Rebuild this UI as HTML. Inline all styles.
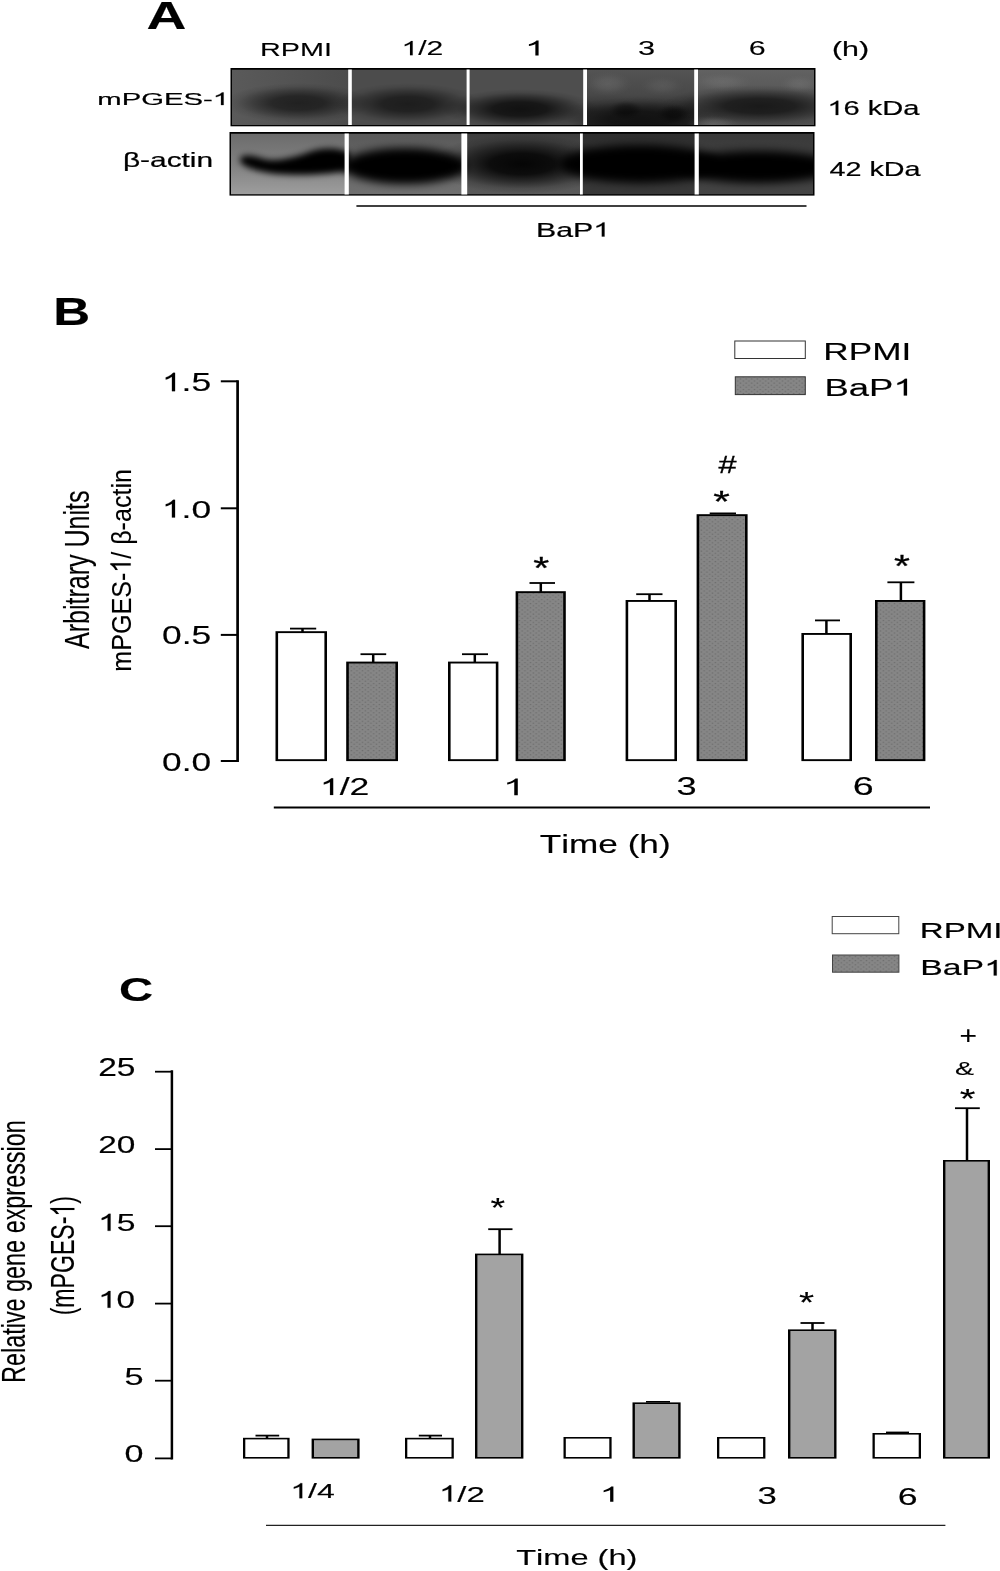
<!DOCTYPE html>
<html><head><meta charset="utf-8"><title>Figure</title>
<style>
html,body{margin:0;padding:0;background:#fff;}
body{width:1000px;height:1571px;overflow:hidden;}
svg{display:block;will-change:transform;filter:blur(0.45px);}
svg text{font-family:"Liberation Sans",sans-serif;fill:#000;}
</style></head><body>
<svg width="1000" height="1571" viewBox="0 0 1000 1571">
<rect width="1000" height="1571" fill="#fff"/>
<defs>
<pattern id="dots" width="5.6" height="4.2" patternUnits="userSpaceOnUse"><rect width="5.6" height="4.2" fill="#868686"/><rect x="0.6" y="0.4" width="1.5" height="1.1" fill="#6c6c6c"/><rect x="3.4" y="2.5" width="1.5" height="1.1" fill="#6c6c6c"/></pattern>
<filter id="bl3" x="-30%" y="-80%" width="160%" height="260%"><feGaussianBlur stdDeviation="3.2"/></filter>
<filter id="bl4" x="-30%" y="-80%" width="160%" height="260%"><feGaussianBlur stdDeviation="4.5"/></filter>
<filter id="bl6" x="-40%" y="-100%" width="180%" height="300%"><feGaussianBlur stdDeviation="6"/></filter>
<filter id="bl8" x="-40%" y="-120%" width="180%" height="340%"><feGaussianBlur stdDeviation="7.5"/></filter>
<radialGradient id="rgk"><stop offset="0" stop-color="#000" stop-opacity="1"/><stop offset="0.35" stop-color="#000" stop-opacity="0.9"/><stop offset="0.6" stop-color="#000" stop-opacity="0.52"/><stop offset="0.82" stop-color="#000" stop-opacity="0.15"/><stop offset="1" stop-color="#000" stop-opacity="0"/></radialGradient>
<radialGradient id="rgw"><stop offset="0" stop-color="#999" stop-opacity="1"/><stop offset="0.4" stop-color="#999" stop-opacity="0.7"/><stop offset="0.75" stop-color="#999" stop-opacity="0.2"/><stop offset="1" stop-color="#999" stop-opacity="0"/></radialGradient>
<linearGradient id="g1a" x1="0" y1="0" x2="1" y2="0"><stop offset="0" stop-color="#5a5a5a"/><stop offset="1" stop-color="#4c4c4c"/></linearGradient>
<linearGradient id="g1d" x1="0" y1="0" x2="0" y2="1"><stop offset="0" stop-color="#545454"/><stop offset="0.45" stop-color="#484848"/><stop offset="0.75" stop-color="#2e2e2e"/><stop offset="1" stop-color="#2a2a2a"/></linearGradient>
<linearGradient id="g1e" x1="0" y1="0" x2="0" y2="1"><stop offset="0" stop-color="#626262"/><stop offset="0.4" stop-color="#585858"/><stop offset="1" stop-color="#505050"/></linearGradient>
<clipPath id="c1"><rect x="232" y="69.5" width="582" height="55.5"/></clipPath>
<clipPath id="c2"><rect x="231" y="133.5" width="582" height="61"/></clipPath>
<linearGradient id="g2a" x1="0" y1="0" x2="0" y2="1"><stop offset="0" stop-color="#6c6c6c"/><stop offset="0.5" stop-color="#808080"/><stop offset="1" stop-color="#9e9e9e"/></linearGradient>
<linearGradient id="g2b" x1="0" y1="0" x2="0" y2="1"><stop offset="0" stop-color="#5a5a5a"/><stop offset="1" stop-color="#707070"/></linearGradient>
<linearGradient id="g2c" x1="0" y1="0" x2="0" y2="1"><stop offset="0" stop-color="#3e3e3e"/><stop offset="1" stop-color="#5a5a5a"/></linearGradient>
<linearGradient id="g2d" x1="0" y1="0" x2="0" y2="1"><stop offset="0" stop-color="#2e2e2e"/><stop offset="1" stop-color="#383838"/></linearGradient>
<linearGradient id="g2e" x1="0" y1="0" x2="0" y2="1"><stop offset="0" stop-color="#3a3a3a"/><stop offset="1" stop-color="#444"/></linearGradient>
</defs>
<g transform="translate(146.62,28.50) scale(1.4062,1)" stroke="#000" stroke-width="0.15"><text x="0.00" font-size="39.27" font-weight="bold">A</text></g>
<g transform="translate(260.02,55.50) scale(1.5478,1)" stroke="#000" stroke-width="0.1"><text x="0.00" font-size="18.62">RPMI</text></g>
<g transform="translate(401.42,55.20) scale(1.5189,1)" stroke="#000" stroke-width="0.1"><path transform="translate(0.00,0) scale(0.00970,-0.00970)" d="M763 0L583 0L583 1147Q518 1085 412.5 1023Q307 961 223 930L223 1104Q374 1175 487 1276Q600 1377 647 1472L763 1472Z" stroke-width="10.3"/><text x="11.05" font-size="19.86">/2</text></g>
<g transform="translate(524.89,55.50) scale(1.7746,1)"><path transform="translate(0.00,0) scale(0.01012,-0.01012)" d="M763 0L583 0L583 1147Q518 1085 412.5 1023Q307 961 223 930L223 1104Q374 1175 487 1276Q600 1377 647 1472L763 1472Z" stroke-width="0.0"/></g>
<g transform="translate(638.05,55.00) scale(1.5314,1)" stroke="#000" stroke-width="0.1"><text x="0.00" font-size="20.07">3</text></g>
<g transform="translate(748.68,55.00) scale(1.5189,1)" stroke="#000" stroke-width="0.1"><text x="0.00" font-size="20.07">6</text></g>
<g transform="translate(831.90,55.57) scale(1.4902,1)" stroke="#000" stroke-width="0.2"><text x="0.00" font-size="20.38">(h)</text></g>
<g transform="translate(827.43,115.00) scale(1.4643,1)" stroke="#000" stroke-width="0.2"><path transform="translate(0.00,0) scale(0.00970,-0.00970)" d="M763 0L583 0L583 1147Q518 1085 412.5 1023Q307 961 223 930L223 1104Q374 1175 487 1276Q600 1377 647 1472L763 1472Z" stroke-width="20.6"/><text x="11.05" font-size="19.86">6 kDa</text></g>
<g transform="translate(829.55,176.40) scale(1.4264,1)" stroke="#000" stroke-width="0.2"><text x="0.00" font-size="20.14">42 kDa</text></g>
<g transform="translate(97.33,105.00) scale(1.6817,1)" stroke="#000" stroke-width="0.2"><text x="0.00" font-size="17.39">mPGES-</text><path transform="translate(68.61,0) scale(0.00849,-0.00849)" d="M763 0L583 0L583 1147Q518 1085 412.5 1023Q307 961 223 930L223 1104Q374 1175 487 1276Q600 1377 647 1472L763 1472Z" stroke-width="23.6"/></g>
<g transform="translate(122.91,167.00) scale(1.5242,1)" stroke="#000" stroke-width="0.2"><text x="0.00" font-size="19.59">β-actin</text></g>
<g transform="translate(536.00,236.50) scale(1.5431,1)" stroke="#000" stroke-width="0.2"><text x="0.00" font-size="19.62">BaP</text><path transform="translate(37.08,0) scale(0.00958,-0.00958)" d="M763 0L583 0L583 1147Q518 1085 412.5 1023Q307 961 223 930L223 1104Q374 1175 487 1276Q600 1377 647 1472L763 1472Z" stroke-width="20.9"/></g>
<line x1="356.4" y1="206" x2="806.5" y2="206" stroke="#000" stroke-width="1.6"/>
<rect x="230.5" y="68" width="585" height="58.3" fill="#000"/>
<g clip-path="url(#c1)">
<rect x="232" y="69.5" width="118" height="56" fill="url(#g1a)"/>
<rect x="350" y="69.5" width="118" height="56" fill="#4c4c4c"/>
<rect x="468" y="69.5" width="117" height="56" fill="#4e4e4e"/>
<rect x="585" y="69.5" width="111" height="56" fill="url(#g1d)"/>
<rect x="696" y="69.5" width="118" height="56" fill="url(#g1e)"/>
<ellipse cx="298" cy="103" rx="74" ry="20" fill="url(#rgk)" opacity="0.6"/>
<ellipse cx="408" cy="104" rx="74" ry="21" fill="url(#rgk)" opacity="0.62"/>
<ellipse cx="520" cy="109" rx="78" ry="20" fill="url(#rgk)" opacity="0.78"/>
<ellipse cx="640" cy="119" rx="90" ry="22" fill="url(#rgk)" opacity="0.6"/>
<ellipse cx="626" cy="110" rx="18" ry="10" fill="url(#rgk)" opacity="0.4"/>
<ellipse cx="674" cy="114" rx="18" ry="10" fill="url(#rgk)" opacity="0.45"/>
<ellipse cx="608" cy="84" rx="24" ry="12" fill="url(#rgw)" opacity="0.22"/>
<ellipse cx="662" cy="86" rx="22" ry="10" fill="url(#rgw)" opacity="0.15"/>
<ellipse cx="760" cy="106" rx="100" ry="21" fill="url(#rgk)" opacity="0.7"/>
<ellipse cx="712" cy="124" rx="26" ry="8" fill="url(#rgw)" opacity="0.3"/>
<ellipse cx="722" cy="82" rx="30" ry="9" fill="url(#rgw)" opacity="0.2"/>
<ellipse cx="800" cy="84" rx="20" ry="9" fill="url(#rgw)" opacity="0.2"/>
</g>
<rect x="348.2" y="69.5" width="3.60" height="55.5" fill="#fff"/>
<rect x="466.6" y="69.5" width="3.00" height="55.5" fill="#fff"/>
<rect x="583.2" y="69.5" width="3.80" height="55.5" fill="#fff"/>
<rect x="694.2" y="69.5" width="3.80" height="55.5" fill="#fff"/>
<rect x="229.5" y="132" width="585" height="63.6" fill="#000"/>
<g clip-path="url(#c2)">
<rect x="231" y="133.5" width="116" height="61" fill="url(#g2a)"/>
<rect x="347" y="133.5" width="117" height="61" fill="url(#g2b)"/>
<rect x="464" y="133.5" width="117" height="61" fill="url(#g2c)"/>
<rect x="581" y="133.5" width="116" height="61" fill="url(#g2d)"/>
<rect x="697" y="133.5" width="116" height="61" fill="url(#g2e)"/>
<path d="M240,159 C242,154 252,155 264,159 C278,162 296,157 312,151 C326,147 340,148 350,153 L350,170 C336,174 300,176 278,174 C260,172 239,167 240,159Z" fill="#060606" filter="url(#bl3)"/>
<ellipse cx="405" cy="166" rx="62" ry="18" fill="#020202" filter="url(#bl4)"/>
<ellipse cx="522" cy="164" rx="92" ry="30" fill="url(#rgk)" opacity="0.93"/>
<ellipse cx="640" cy="164" rx="80" ry="19" fill="#000" filter="url(#bl4)"/>
<ellipse cx="758" cy="167" rx="80" ry="16" fill="#000" filter="url(#bl4)"/>
</g>
<rect x="344.6" y="133.5" width="4.20" height="61" fill="#fff"/>
<rect x="461.4" y="133.5" width="5.80" height="61" fill="#fff"/>
<rect x="580" y="133.5" width="2.80" height="61" fill="#fff"/>
<rect x="694.6" y="133.5" width="4.20" height="61" fill="#fff"/>
<g transform="translate(53.35,325.00) scale(1.3421,1)" stroke="#000" stroke-width="0.15"><text x="0.00" font-size="38.11" font-weight="bold">B</text></g>
<g transform="translate(161.84,391.14) scale(1.3905,1)" stroke="#000" stroke-width="0.15"><path transform="translate(0.00,0) scale(0.01246,-0.01246)" d="M763 0L583 0L583 1147Q518 1085 412.5 1023Q307 961 223 930L223 1104Q374 1175 487 1276Q600 1377 647 1472L763 1472Z" stroke-width="12.0"/><text x="14.20" font-size="25.52">.5</text></g>
<g transform="translate(161.84,517.55) scale(1.4340,1)" stroke="#000" stroke-width="0.15"><path transform="translate(0.00,0) scale(0.01206,-0.01206)" d="M763 0L583 0L583 1147Q518 1085 412.5 1023Q307 961 223 930L223 1104Q374 1175 487 1276Q600 1377 647 1472L763 1472Z" stroke-width="12.4"/><text x="13.74" font-size="24.70">.0</text></g>
<g transform="translate(162.08,643.84) scale(1.3619,1)" stroke="#000" stroke-width="0.15"><text x="0.00" font-size="26.01">0.5</text></g>
<g transform="translate(162.09,771.44) scale(1.3819,1)" stroke="#000" stroke-width="0.15"><text x="0.00" font-size="25.58">0.0</text></g>
<line x1="237.6" y1="380.2" x2="237.6" y2="762" stroke="#000" stroke-width="2.7"/>
<line x1="220.8" y1="381.3" x2="237.6" y2="381.3" stroke="#000" stroke-width="2"/>
<line x1="220.8" y1="508.3" x2="237.6" y2="508.3" stroke="#000" stroke-width="2"/>
<line x1="220.8" y1="634.9" x2="237.6" y2="634.9" stroke="#000" stroke-width="2"/>
<line x1="220.8" y1="761" x2="237.6" y2="761" stroke="#000" stroke-width="2"/>
<g transform="translate(88.80,648.96) rotate(-90) scale(0.7023,1)" stroke="#000" stroke-width="0.12"><text x="0.00" font-size="35.64">Arbitrary Units</text></g>
<g transform="translate(130.70,671.69) rotate(-90) scale(0.8847,1)" stroke="#000" stroke-width="0.12"><text x="0.00" font-size="28.36">mPGES-</text><path transform="translate(111.89,0) scale(0.01385,-0.01385)" d="M763 0L583 0L583 1147Q518 1085 412.5 1023Q307 961 223 930L223 1104Q374 1175 487 1276Q600 1377 647 1472L763 1472Z" stroke-width="8.7"/><text x="127.67" font-size="28.36">/ β-actin</text></g>
<rect x="275.50" y="631.20" width="51.50" height="129.90" fill="#000"/><rect x="278.10" y="633.10" width="46.30" height="126.10" fill="#fff"/>
<line x1="290.00" y1="628.60" x2="316.20" y2="628.60" stroke="#000" stroke-width="1.8"/><line x1="302.50" y1="628.60" x2="302.50" y2="632.20" stroke="#000" stroke-width="2.5"/>
<rect x="346.20" y="661.60" width="51.80" height="99.50" fill="#000"/><rect x="348.80" y="663.50" width="46.60" height="95.70" fill="url(#dots)"/>
<line x1="360.50" y1="654.20" x2="386.20" y2="654.20" stroke="#000" stroke-width="1.8"/><line x1="373.20" y1="654.20" x2="373.20" y2="662.60" stroke="#000" stroke-width="2.5"/>
<rect x="448.00" y="661.60" width="50.40" height="99.50" fill="#000"/><rect x="450.60" y="663.50" width="45.20" height="95.70" fill="#fff"/>
<line x1="462.00" y1="654.20" x2="488.00" y2="654.20" stroke="#000" stroke-width="1.8"/><line x1="474.80" y1="654.20" x2="474.80" y2="662.60" stroke="#000" stroke-width="2.5"/>
<rect x="515.60" y="591.20" width="50.20" height="169.90" fill="#000"/><rect x="518.20" y="593.10" width="45.00" height="166.10" fill="url(#dots)"/>
<line x1="529.50" y1="583.00" x2="555.00" y2="583.00" stroke="#000" stroke-width="1.8"/><line x1="540.80" y1="583.00" x2="540.80" y2="592.20" stroke="#000" stroke-width="2.5"/>
<rect x="625.60" y="600.00" width="51.40" height="161.10" fill="#000"/><rect x="628.20" y="601.90" width="46.20" height="157.30" fill="#fff"/>
<line x1="636.20" y1="594.20" x2="662.50" y2="594.20" stroke="#000" stroke-width="1.8"/><line x1="649.50" y1="594.20" x2="649.50" y2="601.00" stroke="#000" stroke-width="2.5"/>
<rect x="696.60" y="514.20" width="51.00" height="246.90" fill="#000"/><rect x="699.20" y="516.10" width="45.80" height="243.10" fill="url(#dots)"/>
<line x1="709.70" y1="513.40" x2="736.00" y2="513.40" stroke="#000" stroke-width="1.8"/>
<rect x="801.40" y="633.00" width="50.60" height="128.10" fill="#000"/><rect x="804.00" y="634.90" width="45.40" height="124.30" fill="#fff"/>
<line x1="815.00" y1="620.40" x2="840.00" y2="620.40" stroke="#000" stroke-width="1.8"/><line x1="826.40" y1="620.40" x2="826.40" y2="634.00" stroke="#000" stroke-width="2.5"/>
<rect x="875.00" y="600.00" width="50.40" height="161.10" fill="#000"/><rect x="877.60" y="601.90" width="45.20" height="157.30" fill="url(#dots)"/>
<line x1="887.40" y1="582.30" x2="914.40" y2="582.30" stroke="#000" stroke-width="1.8"/><line x1="900.90" y1="582.30" x2="900.90" y2="601.00" stroke="#000" stroke-width="2.5"/>
<g transform="translate(533.28,579.41) scale(1.3328,1)" stroke="#000" stroke-width="0.3"><text x="0.00" font-size="30.86">*</text></g>
<g transform="translate(718.44,473.00) scale(1.3416,1)" stroke="#000" stroke-width="0.3"><text x="0.00" font-size="24.23">#</text></g>
<g transform="translate(713.16,511.03) scale(1.4315,1)" stroke="#000" stroke-width="0.3"><text x="0.00" font-size="29.71">*</text></g>
<g transform="translate(894.09,576.61) scale(1.2996,1)" stroke="#000" stroke-width="0.3"><text x="0.00" font-size="31.43">*</text></g>
<g transform="translate(319.93,795.00) scale(1.5335,1)" stroke="#000" stroke-width="0.15"><path transform="translate(0.00,0) scale(0.01131,-0.01131)" d="M763 0L583 0L583 1147Q518 1085 412.5 1023Q307 961 223 930L223 1104Q374 1175 487 1276Q600 1377 647 1472L763 1472Z" stroke-width="13.3"/><text x="12.89" font-size="23.17">/2</text></g>
<g transform="translate(502.82,795.20) scale(1.7199,1)"><path transform="translate(0.00,0) scale(0.01141,-0.01141)" d="M763 0L583 0L583 1147Q518 1085 412.5 1023Q307 961 223 930L223 1104Q374 1175 487 1276Q600 1377 647 1472L763 1472Z" stroke-width="0.0"/></g>
<g transform="translate(676.44,795.44) scale(1.3923,1)" stroke="#000" stroke-width="0.15"><text x="0.00" font-size="26.01">3</text></g>
<g transform="translate(852.82,795.44) scale(1.4466,1)" stroke="#000" stroke-width="0.15"><text x="0.00" font-size="26.01">6</text></g>
<line x1="273.8" y1="807.5" x2="930" y2="807.5" stroke="#000" stroke-width="2"/>
<g transform="translate(539.81,853.40) scale(1.3485,1)" stroke="#000" stroke-width="0.15"><text x="0.00" font-size="26.07">T</text><text x="15.92" font-size="26.07">ime (h)</text></g>
<rect x="734.8" y="341" width="70.5" height="17.5" fill="#fff" stroke="#333" stroke-width="1"/>
<rect x="735.3" y="376.8" width="70" height="17.8" fill="url(#dots)" stroke="#333" stroke-width="1"/>
<g transform="translate(823.30,359.50) scale(1.4659,1)" stroke="#000" stroke-width="0.15"><text x="0.00" font-size="24.00">RPMI</text></g>
<g transform="translate(824.49,395.50) scale(1.5694,1)" stroke="#000" stroke-width="0.15"><text x="0.00" font-size="23.23">BaP</text><path transform="translate(43.92,0) scale(0.01135,-0.01135)" d="M763 0L583 0L583 1147Q518 1085 412.5 1023Q307 961 223 930L223 1104Q374 1175 487 1276Q600 1377 647 1472L763 1472Z" stroke-width="13.2"/></g>
<g transform="translate(118.91,1001.30) scale(1.3870,1)" stroke="#000" stroke-width="0.15"><text x="0.00" font-size="34.12" font-weight="bold">C</text></g>
<g transform="translate(98.22,1076.15) scale(1.3402,1)" stroke="#000" stroke-width="0.15"><text x="0.00" font-size="25.02">25</text></g>
<g transform="translate(98.23,1153.16) scale(1.3679,1)" stroke="#000" stroke-width="0.15"><text x="0.00" font-size="24.45">20</text></g>
<g transform="translate(98.03,1230.86) scale(1.4183,1)" stroke="#000" stroke-width="0.15"><path transform="translate(0.00,0) scale(0.01159,-0.01159)" d="M763 0L583 0L583 1147Q518 1085 412.5 1023Q307 961 223 930L223 1104Q374 1175 487 1276Q600 1377 647 1472L763 1472Z" stroke-width="12.9"/><text x="13.20" font-size="23.74">5</text></g>
<g transform="translate(98.08,1307.77) scale(1.4179,1)" stroke="#000" stroke-width="0.15"><path transform="translate(0.00,0) scale(0.01146,-0.01146)" d="M763 0L583 0L583 1147Q518 1085 412.5 1023Q307 961 223 930L223 1104Q374 1175 487 1276Q600 1377 647 1472L763 1472Z" stroke-width="13.1"/><text x="13.05" font-size="23.46">0</text></g>
<g transform="translate(124.53,1384.75) scale(1.3997,1)" stroke="#000" stroke-width="0.15"><text x="0.00" font-size="24.52">5</text></g>
<g transform="translate(124.53,1462.06) scale(1.3960,1)" stroke="#000" stroke-width="0.15"><text x="0.00" font-size="24.45">0</text></g>
<line x1="171.9" y1="1070.3" x2="171.9" y2="1459.4" stroke="#000" stroke-width="2.5"/>
<line x1="155" y1="1071.7" x2="171.9" y2="1071.7" stroke="#000" stroke-width="1.8"/>
<line x1="155" y1="1149.1" x2="171.9" y2="1149.1" stroke="#000" stroke-width="1.8"/>
<line x1="155" y1="1226.2" x2="171.9" y2="1226.2" stroke="#000" stroke-width="1.8"/>
<line x1="155" y1="1303.6" x2="171.9" y2="1303.6" stroke="#000" stroke-width="1.8"/>
<line x1="155" y1="1380.7" x2="171.9" y2="1380.7" stroke="#000" stroke-width="1.8"/>
<line x1="155" y1="1458.4" x2="171.9" y2="1458.4" stroke="#000" stroke-width="1.8"/>
<g transform="translate(24.80,1382.93) rotate(-90) scale(0.6906,1)" stroke="#000" stroke-width="0.12"><text x="0.00" font-size="33.89">Relative gene expression</text></g>
<g transform="translate(74.40,1315.34) rotate(-90) scale(0.6863,1)" stroke="#000" stroke-width="0.12"><text x="0.00" font-size="33.66">(mPGES-</text><path transform="translate(143.97,0) scale(0.01643,-0.01643)" d="M763 0L583 0L583 1147Q518 1085 412.5 1023Q307 961 223 930L223 1104Q374 1175 487 1276Q600 1377 647 1472L763 1472Z" stroke-width="7.3"/><text x="162.69" font-size="33.66">)</text></g>
<rect x="243.00" y="1437.80" width="46.60" height="20.80" fill="#000"/><rect x="245.30" y="1439.40" width="42.00" height="17.60" fill="#fff"/>
<line x1="255.50" y1="1435.60" x2="279.20" y2="1435.60" stroke="#000" stroke-width="1.8"/><line x1="267.00" y1="1435.60" x2="267.00" y2="1438.80" stroke="#000" stroke-width="2.5"/>
<rect x="311.60" y="1438.60" width="48.00" height="20.00" fill="#000"/><rect x="314.00" y="1440.20" width="43.20" height="16.80" fill="#a3a3a3"/>
<rect x="405.00" y="1437.80" width="48.80" height="20.80" fill="#000"/><rect x="407.30" y="1439.40" width="44.20" height="17.60" fill="#fff"/>
<line x1="418.80" y1="1435.60" x2="442.00" y2="1435.60" stroke="#000" stroke-width="1.8"/><line x1="430.00" y1="1435.60" x2="430.00" y2="1438.80" stroke="#000" stroke-width="2.5"/>
<rect x="475.00" y="1253.60" width="48.40" height="205.00" fill="#000"/><rect x="477.40" y="1255.20" width="43.60" height="201.80" fill="#a3a3a3"/>
<line x1="488.20" y1="1229.20" x2="512.50" y2="1229.20" stroke="#000" stroke-width="1.8"/><line x1="499.60" y1="1229.20" x2="499.60" y2="1254.60" stroke="#000" stroke-width="2.5"/>
<rect x="563.50" y="1437.00" width="48.10" height="21.60" fill="#000"/><rect x="565.80" y="1438.60" width="43.50" height="18.40" fill="#fff"/>
<rect x="632.50" y="1402.40" width="48.10" height="56.20" fill="#000"/><rect x="634.90" y="1404.00" width="43.30" height="53.00" fill="#a3a3a3"/>
<line x1="646.00" y1="1401.80" x2="670.00" y2="1401.80" stroke="#000" stroke-width="1.6"/>
<rect x="717.00" y="1437.00" width="48.40" height="21.60" fill="#000"/><rect x="719.30" y="1438.60" width="43.80" height="18.40" fill="#fff"/>
<rect x="788.00" y="1329.40" width="48.50" height="129.20" fill="#000"/><rect x="790.40" y="1331.00" width="43.70" height="126.00" fill="#a3a3a3"/>
<line x1="800.50" y1="1323.00" x2="824.50" y2="1323.00" stroke="#000" stroke-width="1.8"/><line x1="812.50" y1="1323.00" x2="812.50" y2="1330.40" stroke="#000" stroke-width="2.5"/>
<rect x="872.50" y="1433.00" width="48.50" height="25.60" fill="#000"/><rect x="874.80" y="1434.60" width="43.90" height="22.40" fill="#fff"/>
<line x1="886.00" y1="1432.40" x2="909.00" y2="1432.40" stroke="#000" stroke-width="1.6"/>
<rect x="943.00" y="1160.00" width="47.00" height="298.60" fill="#000"/><rect x="945.40" y="1161.60" width="42.20" height="295.40" fill="#a3a3a3"/>
<line x1="955.00" y1="1108.20" x2="979.80" y2="1108.20" stroke="#000" stroke-width="1.8"/><line x1="967.00" y1="1108.20" x2="967.00" y2="1161.00" stroke="#000" stroke-width="2.5"/>
<g transform="translate(490.54,1216.86) scale(1.3659,1)" stroke="#000" stroke-width="0.12"><text x="0.00" font-size="27.43">*</text></g>
<g transform="translate(798.92,1312.22) scale(1.2836,1)" stroke="#000" stroke-width="0.12"><text x="0.00" font-size="30.29">*</text></g>
<g transform="translate(959.38,1043.61) scale(1.1835,1)" stroke="#000" stroke-width="0.12"><text x="0.00" font-size="25.31">+</text></g>
<g transform="translate(955.00,1075.02) scale(1.6018,1)" stroke="#000" stroke-width="0.12"><text x="0.00" font-size="17.79">&amp;</text></g>
<g transform="translate(959.70,1108.26) scale(1.4999,1)" stroke="#000" stroke-width="0.12"><text x="0.00" font-size="26.86">*</text></g>
<g transform="translate(290.31,1498.19) scale(1.5283,1)" stroke="#000" stroke-width="0.15"><path transform="translate(0.00,0) scale(0.01023,-0.01023)" d="M763 0L583 0L583 1147Q518 1085 412.5 1023Q307 961 223 930L223 1104Q374 1175 487 1276Q600 1377 647 1472L763 1472Z" stroke-width="14.7"/><text x="11.65" font-size="20.95">/4</text></g>
<g transform="translate(439.02,1501.57) scale(1.4546,1)" stroke="#000" stroke-width="0.15"><path transform="translate(0.00,0) scale(0.01103,-0.01103)" d="M763 0L583 0L583 1147Q518 1085 412.5 1023Q307 961 223 930L223 1104Q374 1175 487 1276Q600 1377 647 1472L763 1472Z" stroke-width="13.6"/><text x="12.56" font-size="22.59">/2</text></g>
<g transform="translate(599.55,1501.80) scale(1.7575,1)"><path transform="translate(0.00,0) scale(0.01033,-0.01033)" d="M763 0L583 0L583 1147Q518 1085 412.5 1023Q307 961 223 930L223 1104Q374 1175 487 1276Q600 1377 647 1472L763 1472Z" stroke-width="0.0"/></g>
<g transform="translate(757.40,1503.86) scale(1.4542,1)" stroke="#000" stroke-width="0.15"><text x="0.00" font-size="23.89">3</text></g>
<g transform="translate(897.72,1504.56) scale(1.4675,1)" stroke="#000" stroke-width="0.15"><text x="0.00" font-size="24.31">6</text></g>
<line x1="266" y1="1525.3" x2="945.4" y2="1525.3" stroke="#222" stroke-width="1.3"/>
<g transform="translate(516.17,1564.60) scale(1.4486,1)" stroke="#000" stroke-width="0.15"><text x="0.00" font-size="22.48">T</text><text x="13.73" font-size="22.48">ime (h)</text></g>
<rect x="832.2" y="916.5" width="66.6" height="17.2" fill="#fff" stroke="#444" stroke-width="1"/>
<rect x="832.5" y="955" width="66.4" height="17.2" fill="url(#dots)" stroke="#444" stroke-width="1"/>
<g transform="translate(919.77,938.00) scale(1.4690,1)" stroke="#000" stroke-width="0.15"><text x="0.00" font-size="22.55">RPMI</text></g>
<g transform="translate(920.21,975.40) scale(1.5777,1)" stroke="#000" stroke-width="0.15"><text x="0.00" font-size="21.43">BaP</text><path transform="translate(40.50,0) scale(0.01046,-0.01046)" d="M763 0L583 0L583 1147Q518 1085 412.5 1023Q307 961 223 930L223 1104Q374 1175 487 1276Q600 1377 647 1472L763 1472Z" stroke-width="14.3"/></g>
</svg>
</body></html>
